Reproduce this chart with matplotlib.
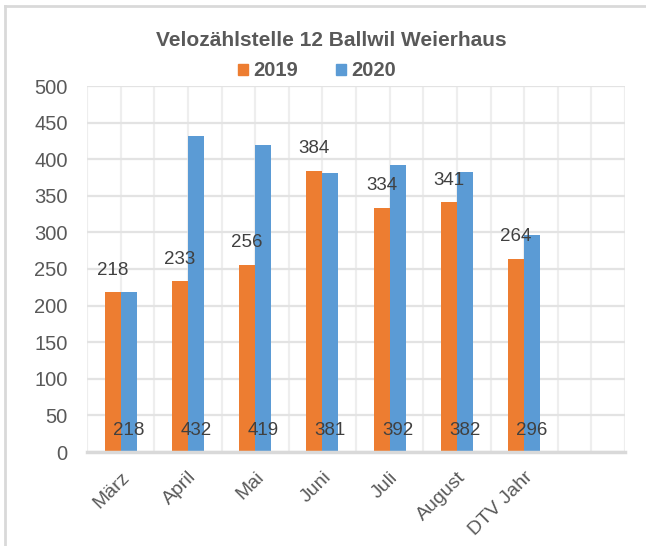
import matplotlib
matplotlib.use("Agg")
import matplotlib.pyplot as plt
from matplotlib.patches import Patch
from matplotlib.lines import Line2D
from matplotlib.ticker import MultipleLocator
import matplotlib.transforms as mtransforms

# data
months = ['März', 'April', 'Mai', 'Juni', 'Juli', 'August', 'DTV Jahr']
values_2019 = [218, 233, 256, 384, 334, 341, 264]
values_2020 = [218, 432, 419, 381, 392, 382, 296]
n_slots = 8  # one empty category at the end

orange = '#ED7D31'
blue = '#5B9BD5'
grey_text = '#595959'
grid_col = '#E3E3E3'

plt.rcParams['font.family'] = ['Liberation Sans', 'DejaVu Sans']

fig = plt.figure(figsize=(6.46, 5.46), dpi=100)
ax = fig.add_axes([87/646, 1-452/546, (625-87)/646, (452-86)/546])

w = 0.237
x = list(range(len(months)))
ax.bar([i - w/2 for i in x], values_2019, width=w, color=orange, zorder=3)
ax.bar([i + w/2 for i in x], values_2020, width=w, color=blue, zorder=3)

# data labels
for i, v in zip(x, values_2019):
    ax.annotate(str(v), (i - w/2, v), xytext=(0, 16), textcoords='offset points',
                ha='center', va='center', fontsize=13.5, color='#404040', zorder=4)
for i, v in zip(x, values_2020):
    ax.text(i + w/2, 30, str(v), ha='center', va='center', fontsize=13.5,
            color='#404040', zorder=4)

ax.set_xlim(-0.5, n_slots - 0.5)
ax.set_ylim(0, 500)
ax.yaxis.set_major_locator(MultipleLocator(50))
ax.set_xticks(x)
ax.set_xticklabels(months, rotation=45, ha='right', rotation_mode='anchor',
                   fontsize=14, color=grey_text)
offset = mtransforms.ScaledTranslation(4/100, 0, fig.dpi_scale_trans)
for lab in ax.get_xticklabels():
    lab.set_transform(lab.get_transform() + offset)
ax.xaxis.set_minor_locator(MultipleLocator(0.5))
ax.tick_params(axis='x', which='both', length=0, pad=12)
ax.tick_params(axis='y', length=0, pad=14, labelsize=14.5, labelcolor=grey_text)

ax.grid(True, axis='y', color=grid_col, linewidth=1.6, zorder=0)
ax.grid(True, axis='x', which='both', color='#EEEEEE', linewidth=1.6, zorder=0)
for s in ['top', 'right', 'left']:
    ax.spines[s].set_visible(False)
ax.spines['bottom'].set_color('#D9D9D9')
ax.spines['bottom'].set_linewidth(2.5)
ax.spines['bottom'].set_zorder(5)

fig.text(331/646, 1-41/546, 'Velozählstelle 12 Ballwil Weierhaus', ha='center', va='center',
         fontsize=15, fontweight='bold', color=grey_text)

handles = [Patch(color=orange, label='2019'), Patch(color=blue, label='2020')]
leg = fig.legend(handles=handles, loc='center', bbox_to_anchor=(317/646, 1-71/546), ncol=2,
                 frameon=False, handlelength=0.5, handleheight=0.5, handletextpad=0.25,
                 columnspacing=1.9, prop={'size': 14.5, 'weight': 'bold'})
for t in leg.get_texts():
    t.set_color(grey_text)

# outer chart border (only top and left visible)
fig.add_artist(Line2D([5/646, 1], [1-6/546, 1-6/546], color='#D9D9D9', linewidth=2))
fig.add_artist(Line2D([5/646, 5/646], [0, 1-6/546], color='#D9D9D9', linewidth=2))

fig.savefig('out.png', dpi=100)
